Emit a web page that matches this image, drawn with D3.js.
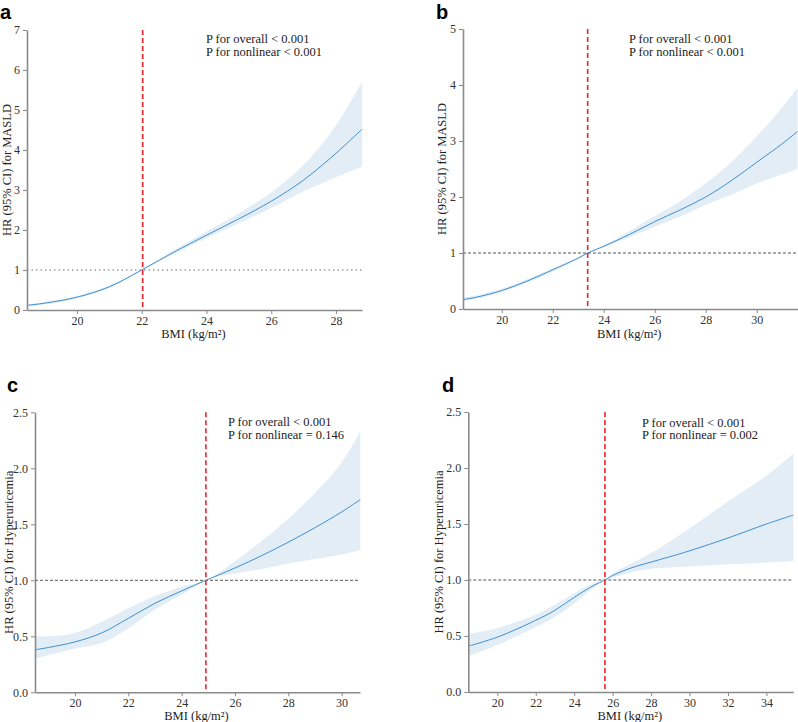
<!DOCTYPE html>
<html>
<head>
<meta charset="utf-8">
<script src="https://cdn.jsdelivr.net/npm/d3@7"></script>
<style>
  body { margin: 0; background: #fff; }
  svg { display: block; }
  .tick text { font-family: "Liberation Serif", "Times New Roman", Tinos, "DejaVu Serif", serif; font-size: 12px; fill: #333; }
</style>
</head>
<body>
<svg id="chart" width="798" height="722"></svg>
<script>
// panel a - MASLD, full sample
const aBmi = [18.5, 19, 20, 21, 22, 23, 24, 25, 26, 27, 28, 28.8];
const aHr  = [0.12, 0.17, 0.32, 0.58, 1.00, 1.45, 1.87, 2.28, 2.72, 3.25, 3.92, 4.52];
const aLow = [0.10, 0.14, 0.29, 0.55, 0.99, 1.40, 1.80, 2.17, 2.55, 2.97, 3.32, 3.58];
const aUp  = [0.14, 0.20, 0.35, 0.61, 1.01, 1.50, 1.96, 2.42, 2.94, 3.63, 4.62, 5.70];

// panel b - MASLD
const bBmi = [18.5, 19, 20, 21, 22, 23, 23.37, 24, 25, 26, 27, 28, 29, 30, 31, 31.6];
const bHr  = [0.17, 0.21, 0.33, 0.50, 0.70, 0.91, 1.00, 1.12, 1.33, 1.56, 1.77, 2.00, 2.29, 2.62, 2.95, 3.17];
const bLow = [0.14, 0.18, 0.30, 0.47, 0.67, 0.89, 0.99, 1.10, 1.28, 1.47, 1.65, 1.86, 2.04, 2.24, 2.40, 2.50];
const bUp  = [0.20, 0.24, 0.36, 0.53, 0.73, 0.93, 1.01, 1.14, 1.39, 1.66, 1.93, 2.24, 2.62, 3.08, 3.60, 3.95];

// panel c - Hyperuricemia
const cBmi = [18.5, 19, 20, 21, 22, 23, 24, 24.91, 26, 27, 28, 29, 30, 30.7];
const cHr  = [0.38, 0.40, 0.45, 0.53, 0.66, 0.795, 0.905, 1.00, 1.11, 1.22, 1.34, 1.47, 1.61, 1.72];
const cLow = [0.30, 0.33, 0.39, 0.44, 0.57, 0.74, 0.87, 1.00, 1.06, 1.10, 1.15, 1.19, 1.23, 1.27];
const cUp  = [0.50, 0.50, 0.53, 0.63, 0.75, 0.86, 0.94, 1.00, 1.17, 1.35, 1.55, 1.78, 2.05, 2.33];

// panel d - Hyperuricemia
const dBmi = [18.5, 20, 22, 23, 24, 25, 25.6, 26, 27, 28, 30, 32, 34, 35.4];
const dHr  = [0.41, 0.49, 0.64, 0.73, 0.845, 0.95, 1.00, 1.04, 1.11, 1.16, 1.26, 1.375, 1.50, 1.58];
const dLow = [0.32, 0.42, 0.58, 0.67, 0.79, 0.93, 1.00, 1.02, 1.07, 1.10, 1.12, 1.14, 1.155, 1.17];
const dUp  = [0.52, 0.57, 0.69, 0.78, 0.88, 0.97, 1.00, 1.06, 1.15, 1.24, 1.46, 1.70, 1.93, 2.13];

const refBmi = [22.03, 23.37, 24.91, 25.6];
const pOverall = ["P for overall < 0.001", "P for overall < 0.001", "P for overall < 0.001", "P for overall < 0.001"];
const pNonlinear = ["P for nonlinear < 0.001", "P for nonlinear < 0.001", "P for nonlinear = 0.146", "P for nonlinear = 0.002"];
const yTitles = ["HR (95% CI) for MASLD", "HR (95% CI) for MASLD", "HR (95% CI) for Hyperuricemia", "HR (95% CI) for Hyperuricemia"];
const xTicksA = [20, 22, 24, 26, 28];
const xTicksB = [20, 22, 24, 26, 28, 30];
const xTicksC = [20, 22, 24, 26, 28, 30];
const xTicksD = [20, 22, 24, 26, 28, 30, 32, 34];
const yTicksA = [0, 1, 2, 3, 4, 5, 6, 7];
const yTicksB = [0, 1, 2, 3, 4, 5];
const yTicksCD = [0, 0.5, 1, 1.5, 2, 2.5];

const serif = '"Liberation Serif", "Times New Roman", Tinos, "DejaVu Serif", serif';
const svg = d3.select('#chart');

const panels = [
  { tag: 'a', bmi: aBmi, hr: aHr, lo: aLow, up: aUp, xd: [18.46, 28.8], yd: [0, 7], xt: xTicksA, yt: yTicksA, fmt: d3.format('d'),
    l: 27, r: 362, t: 30, b: 310, tagX: 0, tagY: 19, pX: 206, pY: 43, xtY: 338, ytX: 11, refDotted: true },
  { tag: 'b', bmi: bBmi, hr: bHr, lo: bLow, up: bUp, xd: [18.48, 31.6], yd: [0, 5], xt: xTicksB, yt: yTicksB, fmt: d3.format('d'),
    l: 463, r: 797.5, t: 29, b: 309, tagX: 436, tagY: 19, pX: 629, pY: 43, xtY: 338, ytX: 446, refDotted: false },
  { tag: 'c', bmi: cBmi, hr: cHr, lo: cLow, up: cUp, xd: [18.5, 30.69], yd: [0, 2.5], xt: xTicksC, yt: yTicksCD, fmt: d3.format('.1f'),
    l: 35, r: 360, t: 412.3, b: 692.3, tagX: 7, tagY: 392, pX: 228, pY: 426, xtY: 720, ytX: 13, refDotted: false },
  { tag: 'd', bmi: dBmi, hr: dHr, lo: dLow, up: dUp, xd: [18.49, 35.4], yd: [0, 2.5], xt: xTicksD, yt: yTicksCD, fmt: d3.format('.1f'),
    l: 468.3, r: 793.3, t: 412, b: 692, tagX: 442, tagY: 392, pX: 642, pY: 426.5, xtY: 720, ytX: 443, refDotted: false }
];

panels.forEach((p, i) => drawPanel(p, i));

function drawPanel(p, i) {
  const x = d3.scaleLinear().domain(p.xd).range([p.l, p.r]);
  const y = d3.scaleLinear().domain(p.yd).range([p.b, p.t]);
  const pts = p.bmi.map((v, k) => ({ x: v, hr: p.hr[k], lo: p.lo[k], up: p.up[k] }));
  const smooth = d3.curveCatmullRom.alpha(0.5);
  const g = svg.append('g');

  // CI band
  g.append('path')
    .datum(pts)
    .attr('fill', '#e2edf6')
    .attr('d', d3.area().curve(smooth)
      .x(d => x(d.x)).y0(d => y(d.lo)).y1(d => y(d.up)));

  // reference HR = 1
  g.append('line')
    .attr('x1', p.l).attr('x2', p.r)
    .attr('y1', y(1)).attr('y2', y(1))
    .attr('stroke', p.refDotted ? '#9a9a9a' : '#555')
    .attr('stroke-width', p.refDotted ? 1.4 : 1)
    .attr('stroke-dasharray', p.refDotted ? '1.5,3' : '3,2');

  // spline
  g.append('path')
    .datum(pts)
    .attr('fill', 'none')
    .attr('stroke', '#3f8fd2')
    .attr('stroke-width', 1)
    .attr('d', d3.line().curve(smooth).x(d => x(d.x)).y(d => y(d.hr)));

  // BMI reference
  g.append('line')
    .attr('x1', x(refBmi[i])).attr('x2', x(refBmi[i]))
    .attr('y1', p.t).attr('y2', p.b)
    .attr('stroke', '#e8262b')
    .attr('stroke-width', 1.6)
    .attr('stroke-dasharray', '5,3');

  // axes
  const xAxis = g.append('g')
    .attr('transform', `translate(0,${p.b})`)
    .call(d3.axisBottom(x).tickValues(p.xt).tickSize(4).tickSizeOuter(0).tickPadding(2));
  const yAxis = g.append('g')
    .attr('transform', `translate(${p.l},0)`)
    .call(d3.axisLeft(y).tickValues(p.yt).tickFormat(p.fmt).tickSize(4).tickSizeOuter(0).tickPadding(3));
  [xAxis, yAxis].forEach(ax => {
    ax.attr('font-family', null);
    ax.select('.domain').attr('stroke', '#8a8a8a').attr('stroke-width', 1.6);
    ax.selectAll('.tick line').attr('stroke', '#8a8a8a');
  });

  // texts
  g.append('text')
    .attr('x', p.tagX).attr('y', p.tagY)
    .attr('font-family', '"Liberation Sans", Arial, sans-serif')
    .attr('font-weight', 'bold').attr('font-size', 20)
    .text(p.tag);

  const pt = g.append('text')
    .attr('font-family', serif).attr('font-size', 12.5).attr('fill', '#222');
  pt.append('tspan').attr('x', p.pX).attr('y', p.pY).text(pOverall[i]);
  pt.append('tspan').attr('x', p.pX).attr('y', p.pY + 12.5).text(pNonlinear[i]);

  g.append('text')
    .attr('x', (p.l + p.r) / 2 - 1).attr('y', p.xtY)
    .attr('text-anchor', 'middle')
    .attr('font-family', serif).attr('font-size', 12.5).attr('fill', '#222')
    .text('BMI (kg/m²)');

  g.append('text')
    .attr('transform', `translate(${p.ytX},${(p.t + p.b) / 2}) rotate(-90)`)
    .attr('text-anchor', 'middle')
    .attr('font-family', serif).attr('font-size', 12.5).attr('fill', '#222')
    .text(yTitles[i]);
}
</script>
</body>
</html>
